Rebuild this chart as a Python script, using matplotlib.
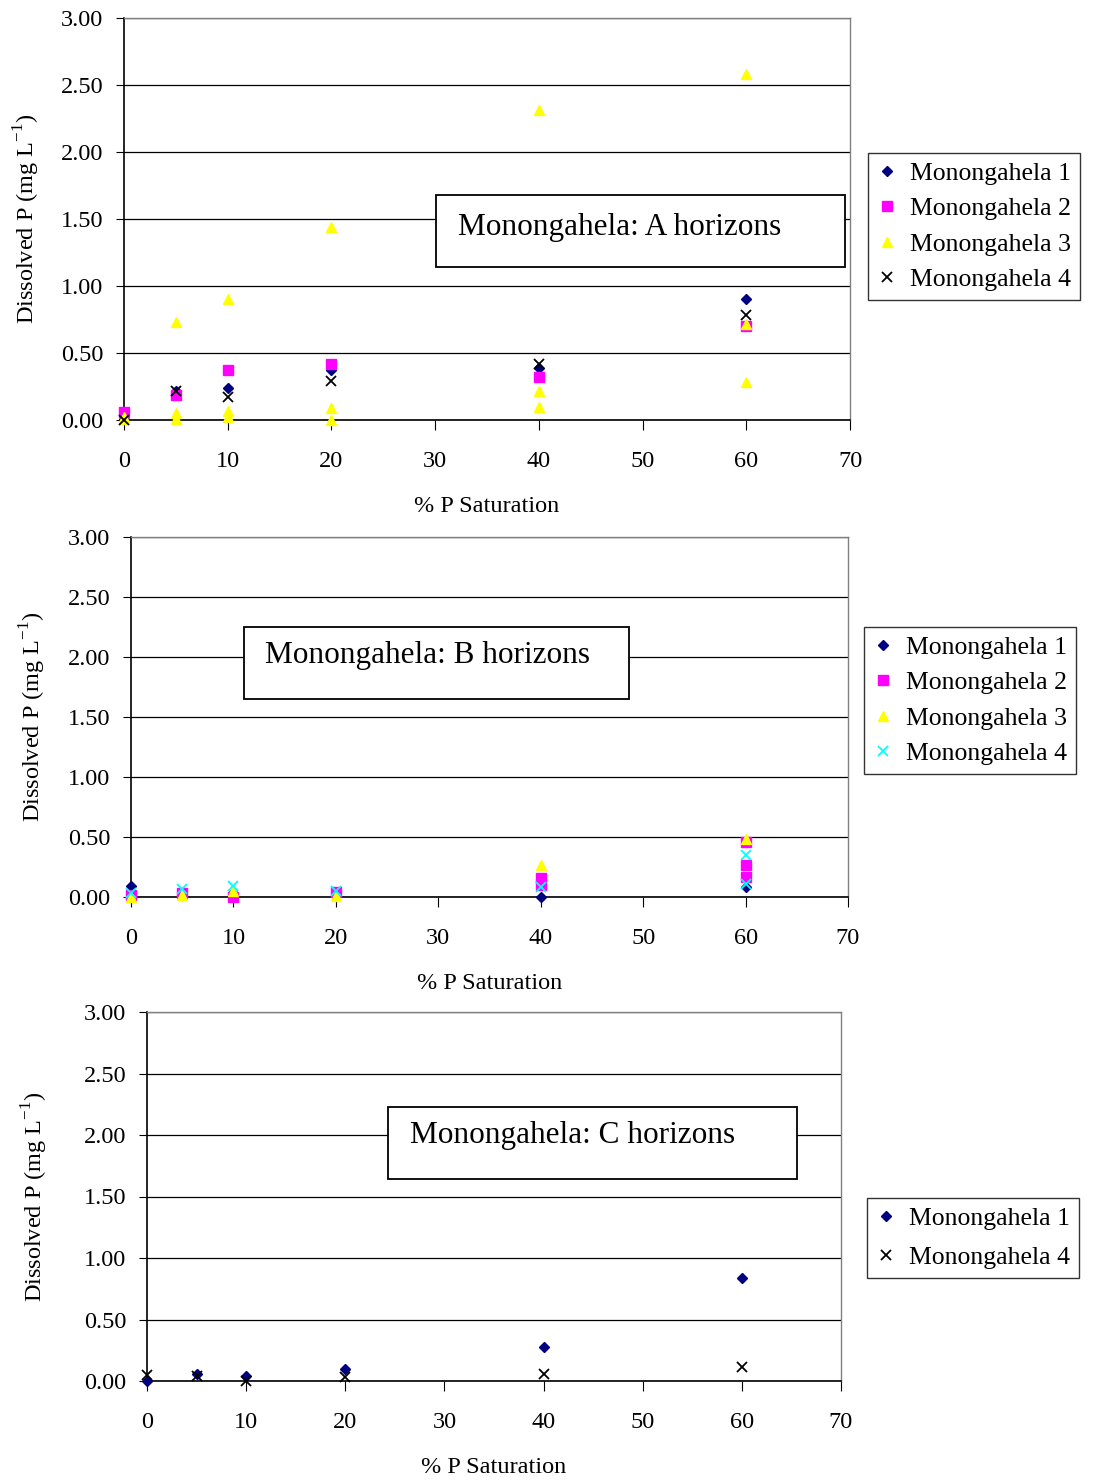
import matplotlib.pyplot as plt
from matplotlib.patches import Rectangle

plt.rcParams['font.family'] = 'Liberation Serif'
plt.rcParams['mathtext.fontset'] = 'custom'
plt.rcParams['mathtext.rm'] = 'Liberation Serif'

# --- A horizons ---
a_m1_x = [0, 5, 10, 20, 40, 60]
a_m1_y = [0.01, 0.22, 0.24, 0.37, 0.39, 0.90]
a_m2_x = [0, 5, 10, 20, 40, 60]
a_m2_y = [0.06, 0.19, 0.37, 0.42, 0.32, 0.70]
a_m3_x = [0, 0, 5, 5, 5, 10, 10, 10, 20, 20, 20, 40, 40, 40, 60, 60, 60]
a_m3_y = [0.02, 0.01, 0.73, 0.05, 0.01, 0.90, 0.07, 0.02, 1.44, 0.09, 0.00,
          2.31, 0.22, 0.10, 2.58, 0.72, 0.28]
a_m4_x = [0, 5, 10, 20, 40, 60]
a_m4_y = [0.00, 0.22, 0.17, 0.29, 0.42, 0.78]

# --- B horizons ---
b_m1_x = [0, 5, 10, 20, 40, 60]
b_m1_y = [0.09, 0.02, 0.03, 0.02, 0.00, 0.08]
b_m2_x = [0, 5, 10, 20, 40, 40, 60, 60, 60]
b_m2_y = [0.02, 0.03, 0.00, 0.04, 0.16, 0.10, 0.46, 0.27, 0.17]
b_m3_x = [0, 5, 10, 20, 40, 60]
b_m3_y = [0.00, 0.02, 0.05, 0.01, 0.27, 0.48]
b_m4_x = [0, 5, 10, 20, 40, 60, 60]
b_m4_y = [0.03, 0.07, 0.09, 0.05, 0.08, 0.35, 0.11]

# --- C horizons ---
c_m1_x = [0, 5, 10, 20, 40, 60]
c_m1_y = [0.00, 0.06, 0.04, 0.10, 0.28, 0.84]
c_m4_x = [0, 5, 10, 20, 40, 60]
c_m4_y = [0.05, 0.04, 0.00, 0.03, 0.06, 0.11]

yticks = [0, 0.5, 1.0, 1.5, 2.0, 2.5, 3.0]
xticks = [0, 10, 20, 30, 40, 50, 60, 70]

W, H = 1114, 1483
fig = plt.figure(figsize=(W / 100, H / 100), dpi=100)


def make_axes(left, top, right, bottom):
    return fig.add_axes([left / W, 1 - bottom / H, (right - left) / W, (bottom - top) / H])


def style(ax, ylab_x, xlab_y):
    ax.set_xlim(0, 70)
    ax.set_ylim(0, 3.0)
    ax.set_xticks(xticks)
    ax.set_yticks(yticks)
    ax.set_yticklabels(['%.2f' % v for v in yticks])
    ax.grid(True, axis='y', color='black', linewidth=0.9)
    ax.set_axisbelow(True)
    for s in ['top', 'right']:
        ax.spines[s].set_color('#808080')
        ax.spines[s].set_linewidth(1.0)
    for s in ['left', 'bottom']:
        ax.spines[s].set_color('black')
        ax.spines[s].set_linewidth(1.2)
    ax.tick_params(axis='y', direction='out', length=6, pad=9, labelsize=17.5)
    ax.tick_params(axis='x', direction='out', length=7, pad=15, labelsize=17.5)
    ax.set_xlabel('% P Saturation', fontsize=17.5)
    ax.set_ylabel('Dissolved P (mg L$^{-1}$)', fontsize=17.5)
    ax.yaxis.set_label_coords(ylab_x, 0.5)
    ax.xaxis.set_label_coords(0.5, xlab_y)


def title_box(ax, text, x0, x1, y0, y1, tx, ty):
    ax.add_patch(Rectangle((x0, y0), x1 - x0, y1 - y0, transform=ax.transAxes,
                           facecolor='white', edgecolor='black', linewidth=1.3, zorder=5))
    ax.text(tx, ty, text, transform=ax.transAxes, ha='left', va='center',
            fontsize=22.5, zorder=6)


def legend(ax, x, y, spacing=0.48):
    leg = ax.legend(loc='upper left', bbox_to_anchor=(x / W, 1 - y / H),
                    bbox_transform=fig.transFigure, fontsize=18.5, frameon=True,
                    fancybox=False, edgecolor='black', handlelength=0.8,
                    handletextpad=0.5, borderpad=0.35, labelspacing=spacing,
                    borderaxespad=0)
    leg.get_frame().set_linewidth(1.0)
    return leg


mk = dict(linestyle='none', clip_on=False, zorder=4)

# A
ax1 = make_axes(124, 18, 850, 420)
ax1.plot(a_m1_x, a_m1_y, marker='D', color='#000080', markersize=5, label='Monongahela 1', **mk)
ax1.plot(a_m2_x, a_m2_y, marker='s', color='#FF00FF', markersize=6.5, label='Monongahela 2', **mk)
ax1.plot(a_m3_x, a_m3_y, marker='^', color='#FFFF00', markersize=7, label='Monongahela 3', **mk)
ax1.plot(a_m4_x, a_m4_y, marker='x', color='black', markersize=6.5, markeredgewidth=1.3,
         label='Monongahela 4', **mk)
style(ax1, -0.113, -0.189)
title_box(ax1, 'Monongahela: A horizons', 0.430, 0.993, 0.381, 0.560, 0.460, 0.478)
legend(ax1, 868, 153)

# B
ax2 = make_axes(131, 537, 848, 897)
ax2.plot(b_m1_x, b_m1_y, marker='D', color='#000080', markersize=5, label='Monongahela 1', **mk)
ax2.plot(b_m2_x, b_m2_y, marker='s', color='#FF00FF', markersize=6.5, label='Monongahela 2', **mk)
ax2.plot(b_m3_x, b_m3_y, marker='^', color='#FFFF00', markersize=7, label='Monongahela 3', **mk)
ax2.plot(b_m4_x, b_m4_y, marker='x', color='#00FFFF', markersize=6.5, markeredgewidth=1.3,
         label='Monongahela 4', **mk)
style(ax2, -0.116, -0.211)
title_box(ax2, 'Monongahela: B horizons', 0.158, 0.695, 0.55, 0.75, 0.187, 0.672)
legend(ax2, 864, 627)

# C
ax3 = make_axes(147, 1012, 841, 1381)
ax3.plot(c_m1_x, c_m1_y, marker='D', color='#000080', markersize=5, label='Monongahela 1', **mk)
ax3.plot(c_m4_x, c_m4_y, marker='x', color='black', markersize=6.5, markeredgewidth=1.3,
         label='Monongahela 4', **mk)
style(ax3, -0.14, -0.206)
title_box(ax3, 'Monongahela: C horizons', 0.347, 0.937, 0.547, 0.743, 0.379, 0.666)
legend(ax3, 867, 1198, spacing=0.62)

fig.savefig('out.png', dpi=100)
